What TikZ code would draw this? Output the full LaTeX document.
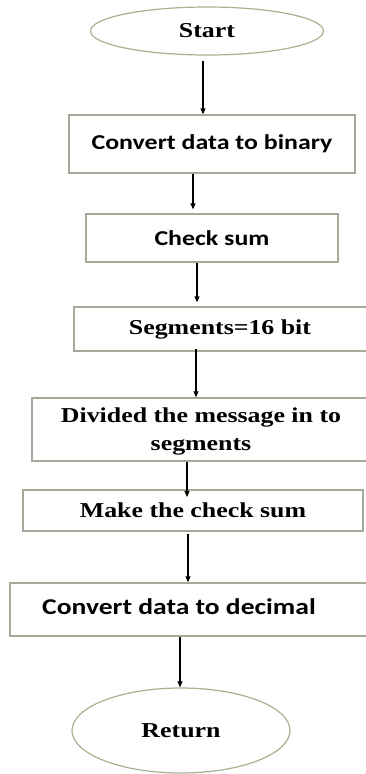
\documentclass[tikz,border=0pt]{standalone}
\usepackage{fontspec}
\setmainfont{Liberation Serif}[FakeStretch=1.22]
\newfontfamily\boxsans{Carlito}[FakeStretch=1.22]
\usetikzlibrary{shapes.geometric,arrows.meta}
\definecolor{boxline}{HTML}{A3AA99}
\definecolor{ovalline}{HTML}{A9B18F}
\tikzset{
  x=1pt, y=-1pt,
  oval/.style={ellipse, draw=ovalline, line width=1.2pt, inner sep=0pt,
    font=\fontsize{21.2}{25}\selectfont\bfseries},
  stepbox/.style={rectangle, draw=boxline, line width=1.4pt, inner sep=0pt},
  serif/.style={font=\fontsize{21.2}{28}\selectfont\bfseries},
  sans/.style={font=\boxsans\fontsize{21.2}{25}\selectfont\bfseries},
  arr/.style={draw=black, line width=1.1pt, -{Triangle[length=6pt,width=5pt]}},
}
\begin{document}
\begin{tikzpicture}
\useasboundingbox (0,0) rectangle (366,774);

% terminals
\node[oval, minimum width=233pt, minimum height=48pt] (start) at (207,31) {Start};
\node[oval, minimum width=218pt, minimum height=85pt] (ret) at (181,730.5) {Return};

% process boxes
\node[stepbox, sans, minimum width=286pt, minimum height=58pt] (b1) at (212,144) {Convert data to binary};
\node[stepbox, sans, minimum width=252pt, minimum height=48pt] (b2) at (212,238) {Check sum};
\node[stepbox, serif, minimum width=294pt, minimum height=44pt] (b3) at (221,329) {\hspace*{-2pt}Segments=16 bit};
\node[stepbox, minimum width=336pt, minimum height=63pt] (b4) at (200,429.5) {};
\node[serif, align=center] (t4) at (201,431) {Divided the message in to\\segments};
\node[stepbox, serif, minimum width=340pt, minimum height=41pt] (b5) at (193,510.5) {Make the check sum};
\node[stepbox, minimum width=358pt, minimum height=53pt] (b6) at (189,609.5) {};
\node[font=\boxsans\fontsize{22.6}{27}\selectfont\bfseries] (t6) at (179,607) {Convert data to decimal};

% arrow columns
\coordinate (c1) at (203,0);
\coordinate (c2) at (193,0);
\coordinate (c3) at (197,0);
\coordinate (c4) at (196,0);
\coordinate (c5) at (187,0);
\coordinate (c6) at (188,0);
\coordinate (c7) at (180,0);
\coordinate (tip5) at (187,497);

% connectors
\draw[arr] ([yshift=-5pt]start.south -| c1) -- (b1.north -| c1);
\draw[arr] (b1.south -| c2) -- ([yshift=4pt]b2.north -| c2);
\draw[arr] (b2.south -| c3) -- ([yshift=4pt]b3.north -| c3);
\draw[arr] ([yshift=3pt]b3.south -| c4) -- (b4.north -| c4);
\draw[arr] (b4.south -| c5) -- (tip5);
\draw[arr] ([yshift=-2pt]b5.south -| c6) -- (b6.north -| c6);
\draw[arr] (b6.south -| c7) -- (ret.north -| c7);
\end{tikzpicture}
\end{document}
